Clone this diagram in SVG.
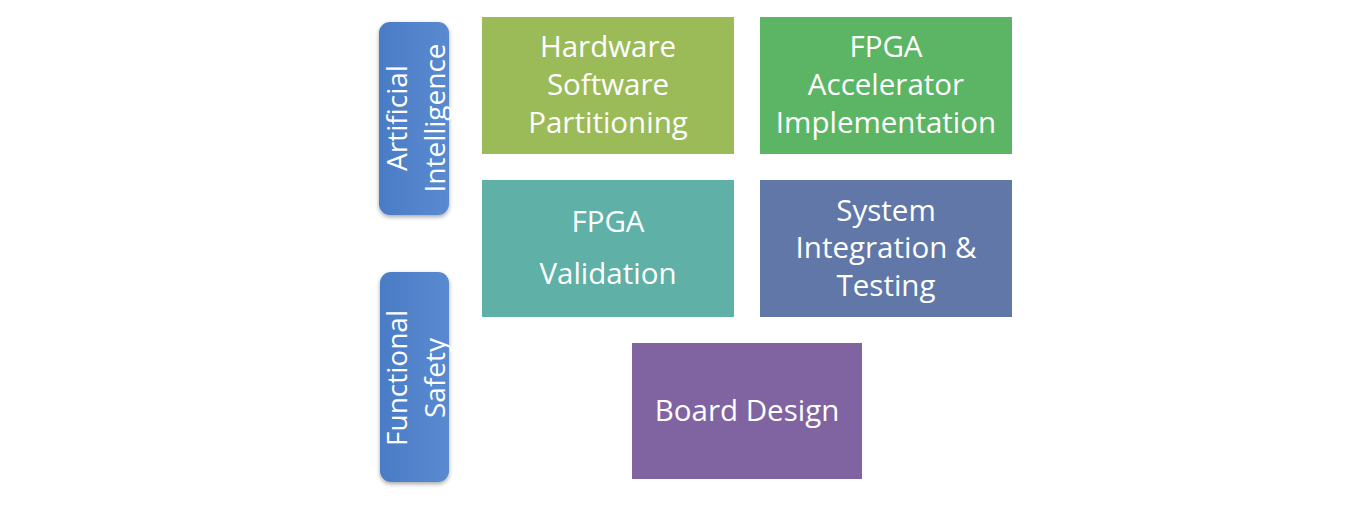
<svg xmlns="http://www.w3.org/2000/svg" width="1366" height="506" viewBox="0 0 1366 506">
<defs>
<linearGradient id="pill" x1="0" y1="0" x2="1" y2="0">
<stop offset="0" stop-color="#4a7cc6"/>
<stop offset="1" stop-color="#5a8ad0"/>
</linearGradient>
<filter id="sh" x="-20%" y="-20%" width="140%" height="140%">
<feDropShadow dx="0" dy="2" stdDeviation="2" flood-color="#000" flood-opacity="0.35"/>
</filter>
</defs>
<style>
text{font-family:"Open Sans","Lato","Liberation Sans",sans-serif;fill:#fff;text-anchor:middle}
.t{font-size:29.5px}
.p{font-size:28px}
</style>
<rect width="1366" height="506" fill="#fff"/>
<g id="ai">
<rect x="379" y="22" width="70" height="193" rx="11" fill="url(#pill)" filter="url(#sh)"/>
<text class="p" transform="translate(407,118) rotate(-90)">Artificial</text>
<text class="p" transform="translate(445,118) rotate(-90)">Intelligence</text>
</g>
<g id="fs">
<rect x="380" y="272" width="69" height="210" rx="11" fill="url(#pill)" filter="url(#sh)"/>
<text class="p" transform="translate(407,378) rotate(-90)">Functional</text>
<text class="p" transform="translate(445,378) rotate(-90)">Safety</text>
</g>
<g id="hw">
<rect x="482" y="17" width="252" height="137" fill="#9bbb59"/>
<text class="t" x="608" y="57">Hardware</text>
<text class="t" x="608" y="95">Software</text>
<text class="t" x="608" y="133">Partitioning</text>
</g>
<g id="fpga-accel">
<rect x="760" y="17" width="252" height="137" fill="#5cb565"/>
<text class="t" x="886" y="57">FPGA</text>
<text class="t" x="886" y="95">Accelerator</text>
<text class="t" x="886" y="133">Implementation</text>
</g>
<g id="fpga-val">
<rect x="482" y="180" width="252" height="137" fill="#5fb0a6"/>
<text class="t" x="608" y="232">FPGA</text>
<text class="t" x="608" y="284">Validation</text>
</g>
<g id="sys">
<rect x="760" y="180" width="252" height="137" fill="#6077a7"/>
<text class="t" x="886" y="221">System</text>
<text class="t" x="886" y="258">Integration &amp;</text>
<text class="t" x="886" y="296">Testing</text>
</g>
<g id="board">
<rect x="632" y="343" width="230" height="136" fill="#8064a2"/>
<text class="t" x="747" y="421">Board Design</text>
</g>
<g id="connectors"/>
</svg>
